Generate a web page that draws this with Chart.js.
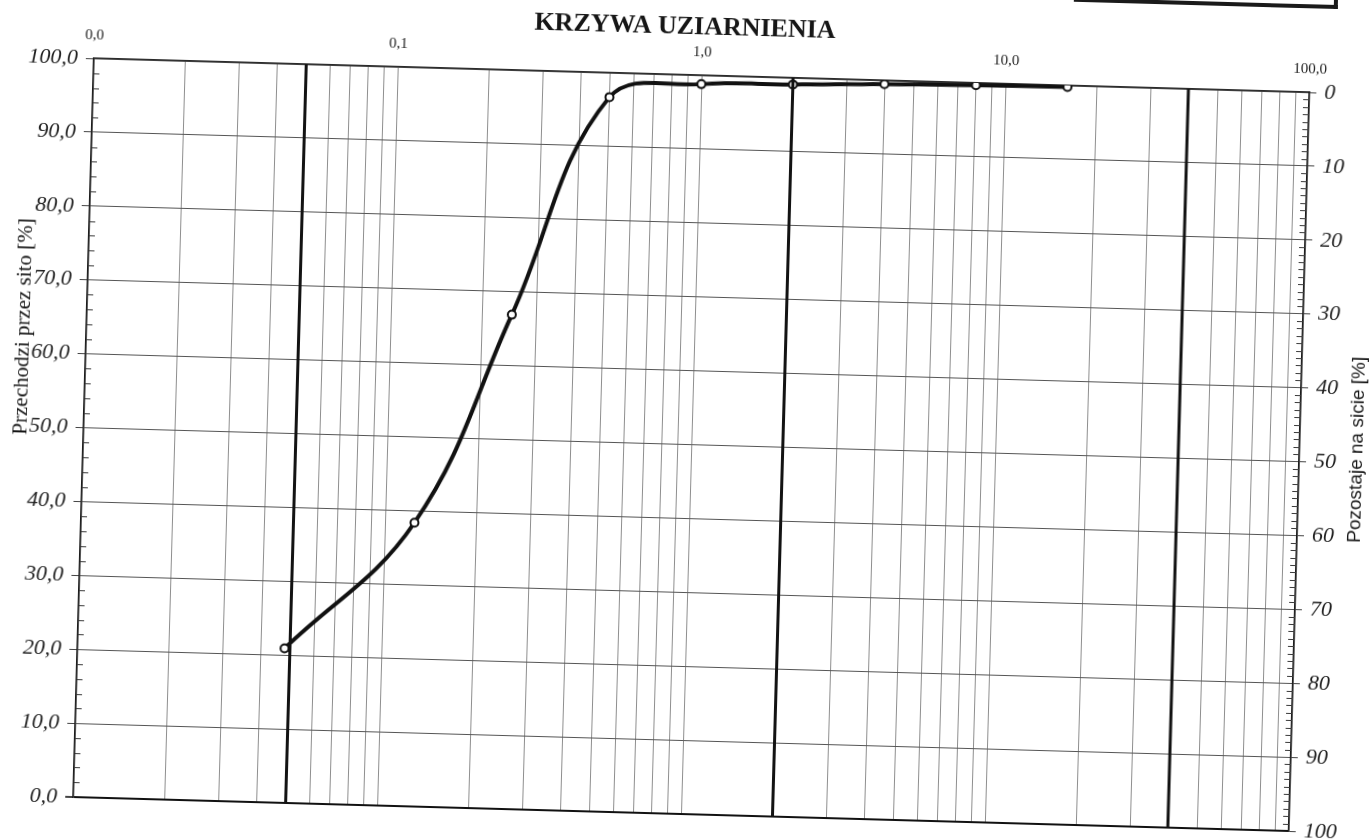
<!DOCTYPE html>
<html lang="pl">
<head>
<meta charset="utf-8">
<title>Krzywa uziarnienia</title>
<script src="https://cdn.jsdelivr.net/npm/chart.js@4.4.1/dist/chart.umd.min.js"></script>
<style>
  html, body { margin: 0; padding: 0; background: #fff; overflow: hidden; }
  #sheet { position: relative; width: 1372px; height: 839px; transform: rotate(1.6deg); transform-origin: 686px 419.5px; }
  #frame { position: absolute; left: 1062px; top: -60px; width: 260px; height: 47px;
           border-right: 4px solid #1a1a1a; border-bottom: 4px solid #1a1a1a; }
  #chart { position: absolute; left: 0; top: 0; }
</style>
</head>
<body>
<div id="sheet">
  <div id="frame"></div>
  <canvas id="chart" width="1372" height="839"></canvas>
</div>
<script>
// Sieve analysis: grain diameter [mm] and cumulative percentage passing [%]
const grainSizeMm    = [0.048, 0.125, 0.25, 0.5, 1.0, 2.0, 4.0, 8.0, 16.0];
const passingPercent = [20.9, 38.4, 66.9, 96.7, 98.8, 99.1, 99.5, 99.7, 99.8];

// Fraction boundaries [mm]: silt / sand, sand / gravel, gravel / cobbles
const fractionLimitsMm = [0.05, 2.0, 40.0];

// Axis ticks and labels
const xTickValues     = [0.01, 0.1, 1, 10, 100];
const xTickLabels     = ['0,0', '0,1', '1,0', '10,0', '100,0'];
const leftTickValues  = [0, 10, 20, 30, 40, 50, 60, 70, 80, 90, 100];
const leftTickLabels  = ['0,0', '10,0', '20,0', '30,0', '40,0', '50,0', '60,0', '70,0', '80,0', '90,0', '100,0'];
const rightTickValues = [0, 10, 20, 30, 40, 50, 60, 70, 80, 90, 100];
const rightTickLabels = ['0', '10', '20', '30', '40', '50', '60', '70', '80', '90', '100'];

const chartTitle     = 'KRZYWA UZIARNIENIA';
const leftAxisTitle  = 'Przechodzi przez sito [%]';
const rightAxisTitle = 'Pozostaje na sicie [%]';

// Log grid: every 1..9 multiple of each decade between 0.01 and 100 mm
const xGridValues = [];
for (let e = -2; e <= 1; e++) {
  for (let m = 1; m <= 9; m++) xGridValues.push(+(m * Math.pow(10, e)).toPrecision(6));
}
xGridValues.push(100);

const SERIF = '"Liberation Serif", "Times New Roman", serif';
const SANS  = '"Liberation Sans", Arial, sans-serif';

function labelFor(values, labels, v) {
  const i = values.findIndex(t => Math.abs(t - v) <= Math.abs(t) * 1e-6 + 1e-9);
  return i >= 0 ? labels[i] : '';
}

// Minor axis ticks and the free-standing texts of the sheet
const sheetDecor = {
  id: 'sheetDecor',
  afterDraw(chart) {
    const { ctx, chartArea, scales } = chart;
    ctx.save();
    ctx.strokeStyle = '#3a3a3a';
    ctx.lineWidth = 1;
    ctx.beginPath();
    for (let v = 2; v < 100; v += 2) {
      if (v % 10 === 0) continue;
      const py = Math.round(scales.y.getPixelForValue(v)) + 0.5;
      ctx.moveTo(chartArea.left, py);
      ctx.lineTo(chartArea.left + 6, py);
    }
    for (let v = 1; v < 100; v++) {
      if (v % 10 === 0) continue;
      const py = Math.round(scales.y2.getPixelForValue(v)) + 0.5;
      ctx.moveTo(chartArea.right - 6, py);
      ctx.lineTo(chartArea.right, py);
    }
    ctx.stroke();

    ctx.fillStyle = '#161616';
    ctx.textAlign = 'center';
    ctx.textBaseline = 'middle';
    ctx.font = 'bold 26px ' + SERIF;
    ctx.fillText(chartTitle, 674, 27);

    ctx.save();
    ctx.translate(21, 345);
    ctx.rotate(-Math.PI / 2);
    ctx.font = '21px ' + SERIF;
    ctx.fillText(leftAxisTitle, 0, 0);
    ctx.restore();

    ctx.save();
    ctx.translate(1358, 431);
    ctx.rotate(-Math.PI / 2);
    ctx.font = '19px ' + SANS;
    ctx.fillText(rightAxisTitle, 0, 0);
    ctx.restore();

    ctx.restore();
  }
};

const curvePoints = grainSizeMm.map((d, i) => ({ x: d, y: passingPercent[i] }));
const limitDatasets = fractionLimitsMm.map(d => ({
  data: [{ x: d, y: 0 }, { x: d, y: 100 }],
  borderColor: '#121212',
  borderWidth: 3,
  pointRadius: 0,
  tension: 0,
  order: 0,
  yAxisID: 'y'
}));

new Chart(document.getElementById('chart'), {
  type: 'line',
  data: {
    datasets: [
      {
        data: curvePoints,
        borderColor: '#111',
        borderWidth: 4,
        tension: 0.4,
        pointRadius: 4,
        pointBackgroundColor: '#fff',
        pointBorderColor: '#111',
        pointBorderWidth: 2,
        order: 1,
        yAxisID: 'y'
      },
      ...limitDatasets
    ]
  },
  options: {
    responsive: false,
    animation: false,
    events: [],
    layout: { padding: { top: 0, left: 0, right: 0, bottom: 25 } },
    plugins: { legend: { display: false }, tooltip: { enabled: false }, title: { display: false } },
    scales: {
      x: {
        type: 'logarithmic',
        position: 'top',
        min: 0.01,
        max: 100,
        afterBuildTicks: s => { s.ticks = xGridValues.map(v => ({ value: v })); },
        afterFit: s => { s.height = 75; },
        ticks: {
          autoSkip: false,
          maxRotation: 0,
          padding: 14,
          color: '#222',
          font: { family: SERIF, size: 15 },
          callback: v => labelFor(xTickValues, xTickLabels, v)
        },
        grid: { color: '#8e8e8e', lineWidth: 1, drawTicks: false },
        border: { display: true, color: '#2a2a2a', width: 1.5 }
      },
      y: {
        type: 'linear',
        position: 'left',
        min: 0,
        max: 100,
        afterBuildTicks: s => { s.ticks = leftTickValues.map(v => ({ value: v })); },
        afterFit: s => { s.width = 84; },
        ticks: {
          padding: 8,
          color: '#1e1e1e',
          font: { family: SERIF, size: 22, style: 'italic' },
          callback: v => labelFor(leftTickValues, leftTickLabels, v)
        },
        grid: {
          color: c => (c.tick && c.tick.value === 0) ? '#111' : '#555',
          lineWidth: c => (c.tick && c.tick.value === 0) ? 2 : 1,
          tickLength: 8,
          tickColor: '#444'
        },
        border: { display: true, color: '#1a1a1a', width: 1.5 }
      },
      y2: {
        type: 'linear',
        position: 'right',
        min: 0,
        max: 100,
        reverse: true,
        afterBuildTicks: s => { s.ticks = rightTickValues.map(v => ({ value: v })); },
        afterFit: s => { s.width = 72; },
        ticks: {
          padding: 8,
          color: '#1e1e1e',
          font: { family: SERIF, size: 22, style: 'italic' },
          callback: v => labelFor(rightTickValues, rightTickLabels, v)
        },
        grid: { drawOnChartArea: false, tickLength: 7, tickColor: '#444' },
        border: { display: true, color: '#1a1a1a', width: 1.5 }
      }
    }
  },
  plugins: [sheetDecor]
});
</script>
</body>
</html>
